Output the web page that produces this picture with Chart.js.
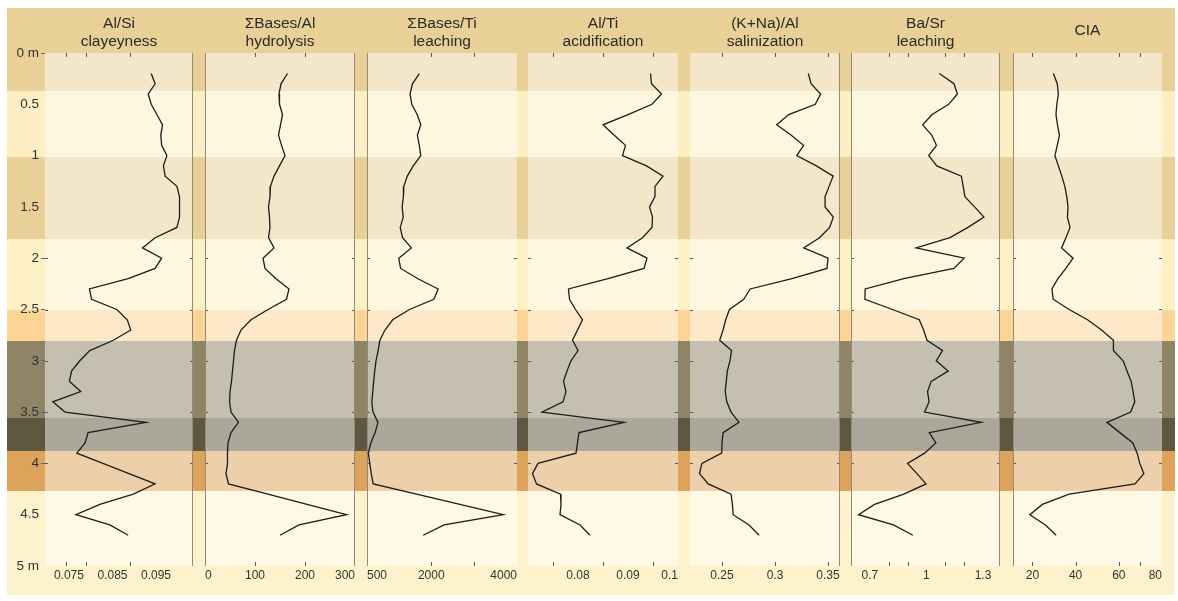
<!DOCTYPE html>
<html>
<head>
<meta charset="utf-8">
<script src="https://cdn.jsdelivr.net/npm/chart.js@4.4.1/dist/chart.umd.min.js"></script>
<style>
  html, body { margin: 0; padding: 0; background: #fff; }
  #wrap { position: relative; width: 1178px; height: 601px; overflow: hidden; }
  #wrap canvas { position: absolute; top: 0; }
</style>
</head>
<body>
<div id="wrap">
  <canvas id="profile" width="1178" height="601" style="left:0"></canvas>
</div>
<script>
// depth of samples (m)
const depth = [0.2, 0.3, 0.4, 0.5, 0.6, 0.7, 0.8, 0.9, 1.0, 1.1,
               1.2, 1.3, 1.4, 1.5, 1.6, 1.7, 1.8, 1.9, 2.0, 2.1,
               2.2, 2.3, 2.4, 2.5, 2.6, 2.7, 2.8, 2.9, 3.0, 3.1,
               3.2, 3.3, 3.4, 3.5, 3.6, 3.7, 3.8, 3.9, 4.0, 4.1,
               4.2, 4.3, 4.4, 4.5, 4.6, 4.7];

const alSi = [0.0939, 0.0948, 0.0932, 0.0939, 0.0952, 0.0965, 0.0961, 0.0963, 0.0975, 0.0967,
              0.0971, 0.0998, 0.1004, 0.1004, 0.1004, 0.0998, 0.0948, 0.0919, 0.0963, 0.0948,
              0.0886, 0.0797, 0.0802, 0.0860, 0.0884, 0.0892, 0.0852, 0.0798, 0.0775, 0.0756,
              0.0751, 0.0777, 0.0713, 0.0741, 0.0927, 0.0794, 0.0787, 0.0768, 0.0828, 0.0888,
              0.0948, 0.0898, 0.0821, 0.0766, 0.0844, 0.0886];

const basesAl = [165, 152, 148, 149, 155, 151, 147, 153, 160, 149,
                 138, 131, 130, 127, 129, 130, 127, 138, 116, 120,
                 142, 168, 163, 126, 92, 72, 63, 59, 57, 55,
                 53, 50, 49, 52, 67, 52, 46, 45, 45, 42,
                 47, 126, 204, 283, 188, 150];

const basesTi = [1720, 1560, 1505, 1545, 1670, 1755, 1675, 1720, 1755, 1580,
                 1440, 1360, 1350, 1320, 1345, 1275, 1330, 1535, 1240, 1285,
                 1690, 2160, 2060, 1490, 1100, 920, 800, 760, 710, 680,
                 655, 635, 612, 640, 755, 690, 590, 532, 565, 600,
                 645, 1657, 2668, 3680, 2300, 1810];

const alTi = [0.0945, 0.0947, 0.0967, 0.0948, 0.0900, 0.0850, 0.0872, 0.0895, 0.0889, 0.0937,
              0.0970, 0.0954, 0.0954, 0.0943, 0.0949, 0.0948, 0.0929, 0.0898, 0.0938, 0.0932,
              0.0860, 0.0781, 0.0783, 0.0795, 0.0809, 0.0799, 0.0789, 0.0800, 0.0786, 0.0778,
              0.0771, 0.0776, 0.0770, 0.0728, 0.0892, 0.0802, 0.0799, 0.0796, 0.0720, 0.0709,
              0.0717, 0.0765, 0.0766, 0.0764, 0.0804, 0.0824];

const kNaAl = [0.3314, 0.3340, 0.3430, 0.3380, 0.3130, 0.3016, 0.3150, 0.3270, 0.3205, 0.3390,
               0.3548, 0.3510, 0.3472, 0.3472, 0.3550, 0.3515, 0.3420, 0.3270, 0.3500, 0.3490,
               0.3160, 0.2765, 0.2705, 0.2570, 0.2535, 0.2510, 0.2478, 0.2590, 0.2575, 0.2550,
               0.2540, 0.2530, 0.2545, 0.2585, 0.2660, 0.2510, 0.2500, 0.2497, 0.2310, 0.2288,
               0.2370, 0.2585, 0.2598, 0.2605, 0.2755, 0.2850];

const baSr = [1.068, 1.146, 1.164, 1.118, 1.030, 0.980, 1.028, 1.053, 1.012, 1.055,
              1.185, 1.195, 1.204, 1.255, 1.305, 1.220, 1.125, 0.945, 1.200, 1.145,
              0.880, 0.675, 0.674, 0.820, 0.962, 0.985, 1.003, 1.085, 1.052, 1.115,
              1.025, 1.006, 1.014, 0.990, 1.290, 1.015, 1.050, 0.990, 0.900, 0.950,
              0.998, 0.880, 0.725, 0.640, 0.825, 0.928];

const cia = [29.7, 31.5, 32.0, 31.3, 30.9, 31.6, 32.5, 31.5, 30.4, 32.0,
             33.6, 35.0, 35.9, 36.5, 36.2, 37.4, 35.5, 33.5, 38.8, 35.5,
             31.8, 29.0, 29.6, 37.0, 45.5, 52.0, 57.5, 57.5, 62.0, 63.8,
             65.7, 66.6, 67.4, 65.5, 54.5, 60.5, 66.5, 68.5, 69.7, 71.6,
             67.5, 37.0, 24.6, 18.8, 26.0, 31.0];

const series = [alSi, basesAl, basesTi, alTi, kNaAl, baSr, cia];
const titles = [['Al/Si', 'clayeyness'], ['\u03A3Bases/Al', 'hydrolysis'], ['\u03A3Bases/Ti', 'leaching'],
                ['Al/Ti', 'acidification'], ['(K+Na)/Al', 'salinization'], ['Ba/Sr', 'leaching'], ['CIA']];

// x axis of each panel
const axisMin = [0.0695, 0, 500, 0.07, 0.2198, 0.6, 11];
const axisMax = [0.1035, 300, 4000, 0.1, 0.3613, 1.39, 80];
const tickValues = [[0.075, 0.085, 0.095], [0, 100, 200, 300], [500, 2000, 4000], [0.07, 0.08, 0.09, 0.1],
                    [0.25, 0.3, 0.35], [0.7, 1, 1.3], [11, 20, 40, 60, 80]];
const tickLabels = [['0.075', '0.085', '0.095'], ['0', '100', '200', '300'], ['500', '2000', '4000'], ['', '0.08', '0.09', '0.1'],
                    ['0.25', '0.3', '0.35'], ['0.7', '1', '1.3'], ['', '20', '40', '60', '80']];
const tickMarks = [[0.0743, 0.0789, 0.0890], [100, 200], [2000, 3000], [0.075, 0.085, 0.095],
                   [0.25, 0.3, 0.35], [0.8, 0.9, 1.1, 1.2], [20, 40, 60, 70]];

// depth axis
const depthTicks = [0, 0.5, 1, 1.5, 2, 2.5, 3, 3.5, 4, 4.5, 5];
const depthLabels = ['0 m', '0.5', '1', '1.5', '2', '2.5', '3', '3.5', '4', '4.5', '5 m'];
const depthMarks = [0, 2, 2.5, 3, 3.5, 4];
const edgeMarks = [2, 2.5, 3, 3.5, 4];

// soil horizons (m)
const horizonTop = [-0.44, 0.37, 1.01, 1.81, 2.50, 2.81, 3.56, 3.88, 4.27];
const horizonBottom = [0.37, 1.01, 1.81, 2.50, 2.81, 3.56, 3.88, 4.27, 5.28];
const horizonColors = ['#e9d097', '#fdefc3', '#e9d097', '#fdf0c4', '#fcd596', '#8f8465', '#605740', '#dda35a', '#fdf2cb'];

// layout
const panelLeft = [45, 205, 367, 528, 690, 851, 1013];
const panelRight = [193, 355, 517, 678, 840, 1000, 1162];
const frameLeft = [false, true, true, false, false, true, true];
const frameRight = [true, true, false, false, true, true, false];
const labelAlign = ['center', 'inner', 'inner', 'inner', 'center', 'center', 'inner'];

Chart.defaults.font.family = "'Liberation Sans Narrow', 'Liberation Sans', 'DejaVu Sans', sans-serif";
Chart.defaults.color = '#333';

const horizonPlugin = {
    id: 'horizons',
    beforeDraw(chart) {
        const {ctx, chartArea} = chart;
        const y = chart.scales.y;
        ctx.save();
        horizonTop.forEach((top, i) => {
            const p0 = Math.round(y.getPixelForValue(top));
            const p1 = Math.round(y.getPixelForValue(horizonBottom[i]));
            ctx.fillStyle = horizonColors[i];
            ctx.fillRect(y.left, p0, chartArea.right - y.left, p1 - p0);
        });
        ctx.restore();
    }
};

new Chart(document.getElementById('profile'), {
    type: 'scatter',
    data: { datasets: [] },
    options: {
        responsive: false,
        animation: false,
        events: [],
        layout: { padding: { left: 7, right: 3, top: 53, bottom: 35 } },
        plugins: { legend: { display: false }, tooltip: { enabled: false } },
        scales: {
            x: { display: false, min: 0, max: 1 },
            y: {
                min: 0, max: 5, reverse: true,
                afterBuildTicks: axis => { axis.ticks = depthTicks.map(v => ({ value: v })); },
                afterFit: axis => { axis.width = 38; },
                ticks: { callback: (v, i) => depthLabels[i], padding: 2, autoSkip: false, font: { size: 13.5 } },
                grid: {
                    drawOnChartArea: false, tickLength: 4,
                    tickColor: c => depthMarks.includes(c.tick.value) ? '#666' : 'rgba(0,0,0,0)'
                },
                border: { display: false }
            }
        }
    },
    plugins: [horizonPlugin]
});

// panel overlay, frame lines and inward tick marks
const framePlugin = {
    id: 'panelFrame',
    beforeDatasetsDraw(chart, args, opts) {
        const {ctx, chartArea: a} = chart;
        const xs = chart.scales.x, ys = chart.scales.y;
        ctx.save();
        ctx.fillStyle = 'rgba(255,255,255,0.48)';
        ctx.fillRect(a.left, a.top, a.right - a.left, a.bottom - a.top);
        ctx.strokeStyle = '#5e5a52';
        ctx.lineWidth = 1;
        ctx.beginPath();
        opts.marks.forEach(v => {
            const px = Math.round(xs.getPixelForValue(v)) + 0.5;
            ctx.moveTo(px, a.top); ctx.lineTo(px, a.top + 4);
            ctx.moveTo(px, a.bottom); ctx.lineTo(px, a.bottom - 4);
        });
        edgeMarks.forEach(d => {
            const py = Math.round(ys.getPixelForValue(d)) + 0.5;
            ctx.moveTo(a.left, py); ctx.lineTo(a.left + 3, py);
            ctx.moveTo(a.right, py); ctx.lineTo(a.right - 3, py);
        });
        ctx.stroke();
        ctx.strokeStyle = '#938a79';
        ctx.beginPath();
        if (opts.left) { ctx.moveTo(a.left + 0.5, a.top); ctx.lineTo(a.left + 0.5, a.bottom); }
        if (opts.right) { ctx.moveTo(a.right - 0.5, a.top); ctx.lineTo(a.right - 0.5, a.bottom); }
        ctx.stroke();
        ctx.restore();
    }
};

const wrap = document.getElementById('wrap');
const M = 24;

series.forEach((values, i) => {
    const cv = document.createElement('canvas');
    cv.width = panelRight[i] - panelLeft[i] + 2 * M;
    cv.height = 601;
    cv.style.left = (panelLeft[i] - M) + 'px';
    wrap.appendChild(cv);
    const single = titles[i].length === 1;

    new Chart(cv, {
        type: 'scatter',
        data: {
            datasets: [{
                data: depth.map((d, k) => ({ x: values[k], y: d })),
                showLine: true,
                borderColor: '#1c1c1c',
                borderWidth: 1.3,
                pointRadius: 0,
                tension: 0
            }]
        },
        options: {
            responsive: false,
            animation: false,
            events: [],
            layout: { padding: { left: M, right: M, top: 0, bottom: 5 } },
            plugins: {
                legend: { display: false },
                tooltip: { enabled: false },
                title: {
                    display: true,
                    text: titles[i],
                    color: '#2b2b2b',
                    font: { size: 15.5, weight: 'normal', lineHeight: 1.13 },
                    padding: single ? { top: 22.25, bottom: 13.23 } : { top: 15.25, bottom: 2.72 }
                },
                panelFrame: { marks: tickMarks[i], left: frameLeft[i], right: frameRight[i] }
            },
            scales: {
                y: { display: false, min: 0, max: 5, reverse: true },
                x: {
                    min: axisMin[i], max: axisMax[i],
                    afterBuildTicks: axis => { axis.ticks = tickValues[i].map(v => ({ value: v })); },
                    afterFit: axis => { axis.height = 30; },
                    ticks: {
                        callback: (v, k) => tickLabels[i][k],
                        align: labelAlign[i],
                        padding: 2, autoSkip: false, maxRotation: 0,
                        font: { size: 12 }
                    },
                    grid: { display: false, drawTicks: false },
                    border: { display: false }
                }
            }
        },
        plugins: [framePlugin]
    });
});
</script>
</body>
</html>
